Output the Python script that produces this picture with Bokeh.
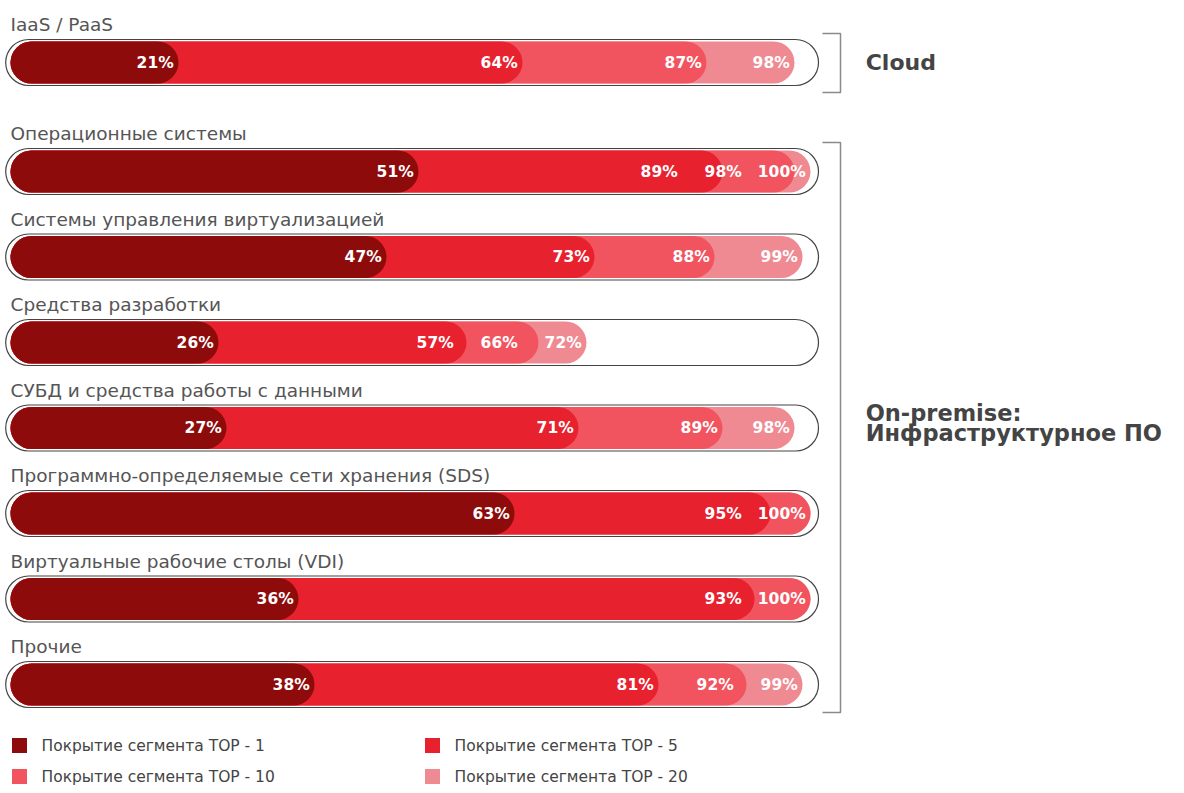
from bokeh.plotting import figure
from bokeh.models import Range1d, ColumnDataSource
from bokeh.core.properties import value
from bokeh.embed import file_html
from bokeh.resources import INLINE

# ---------------- data ----------------
categories = [
    "IaaS / PaaS",
    "Операционные системы",
    "Системы управления виртуализацией",
    "Средства разработки",
    "СУБД и средства работы с данными",
    "Программно-определяемые сети хранения (SDS)",
    "Виртуальные рабочие столы (VDI)",
    "Прочие",
]
top1 = [21, 51, 47, 26, 27, 63, 36, 38]
top5 = [64, 89, 73, 57, 71, 95, 93, 81]
top10 = [87, 98, 88, 66, 89, 100, 100, 92]
top20 = [98, 100, 99, 72, 98, 100, 100, 99]

series_names = [
    "Покрытие сегмента TOP - 1",
    "Покрытие сегмента TOP - 5",
    "Покрытие сегмента TOP - 10",
    "Покрытие сегмента TOP - 20",
]
series_colors = ["#8e0b0b", "#e8212f", "#f1545f", "#ef8a93"]
group_cloud = "Cloud"
group_onprem = ["On-premise:", "Инфраструктурное ПО"]

# ---------------- layout ----------------
W, H = 1176, 785
FONT = "DejaVu Sans"

# row centres (px from top)
row_y = [62] + [171 + i * 85.5 for i in range(len(categories) - 1)]

p = figure(width=W, height=H, output_backend="svg", toolbar_location=None,
           x_range=Range1d(-1.25, (W - 10) / 8), y_range=Range1d(H, 0),
           min_border=0, min_border_left=0, min_border_right=0,
           min_border_top=0, min_border_bottom=0)
p.xaxis.visible = False
p.yaxis.visible = False
p.grid.visible = False
p.outline_line_color = None
p.background_fill_color = "white"
p.border_fill_color = "white"

# pill outlines
p.hbar(y=row_y, left=-0.6, right=101.0, height=46, fill_color="white",
       line_color="#444444", line_width=1.2, border_radius=23)

# overlapping bars, largest first
for vals, col in zip([top20, top10, top5, top1], series_colors[::-1]):
    src = ColumnDataSource(dict(y=row_y, v=vals))
    p.hbar(y="y", left=0, right="v", height=42, source=src,
           fill_color=col, line_color=None, border_radius=21)

# value labels with simple collision avoidance
lx, ly, lt = [], [], []
GAP = 8.0
for i in range(len(categories)):
    vals = []
    for v in [top1[i], top5[i], top10[i], top20[i]]:
        if v not in vals:
            vals.append(v)
    pos = [v - 0.6 for v in vals]
    for j in range(len(pos) - 2, -1, -1):
        pos[j] = min(pos[j], pos[j + 1] - GAP)
    for v, x in zip(vals, pos):
        lx.append(x)
        ly.append(row_y[i])
        lt.append(f"{v}%")
p.text(x=lx, y=ly, text=lt, text_align="right", text_baseline="middle",
       text_color="white", text_font=value(FONT), text_font_style="bold",
       text_font_size="15.5px")

# category labels
p.text(x=[0] * len(categories), y=[y - 38 for y in row_y], text=categories,
       text_align="left", text_baseline="middle", text_color="#555555",
       text_font=value(FONT), text_font_size="18.5px")

# brackets
bx, tick = 103.75, 101.5
c_top, c_bot = row_y[0] - 29, row_y[0] + 30
o_top, o_bot = row_y[1] - 29, row_y[-1] + 28
p.multi_line(xs=[[tick, bx, bx, tick], [tick, bx, bx, tick]],
             ys=[[c_top, c_top, c_bot, c_bot], [o_top, o_top, o_bot, o_bot]],
             line_color="#8a8a8a", line_width=1.5)

# group labels
p.text(x=[106.9], y=[row_y[0]], text=[group_cloud], text_align="left",
       text_baseline="middle", text_color="#444444", text_font=value(FONT),
       text_font_style="bold", text_font_size="22px")
mid = (o_top + o_bot) / 2
p.text(x=[106.9, 106.9], y=[mid - 15, mid + 5], text=group_onprem,
       text_align="left", text_baseline="alphabetic", text_color="#444444",
       text_font=value(FONT), text_font_style="bold", text_font_size="22.5px")

# legend
leg_x = [1.125, 52.75, 1.125, 52.75]
leg_y = [745, 745, 776, 776]
p.scatter(x=leg_x, y=leg_y, marker="square", size=15,
          fill_color=series_colors, line_color=None)
p.text(x=[x + 2.75 for x in leg_x], y=leg_y, text=series_names,
       text_align="left", text_baseline="middle", text_color="#444444",
       text_font=value(FONT), text_font_size="15.5px")

open("out.html", "w").write(file_html(p, INLINE))
